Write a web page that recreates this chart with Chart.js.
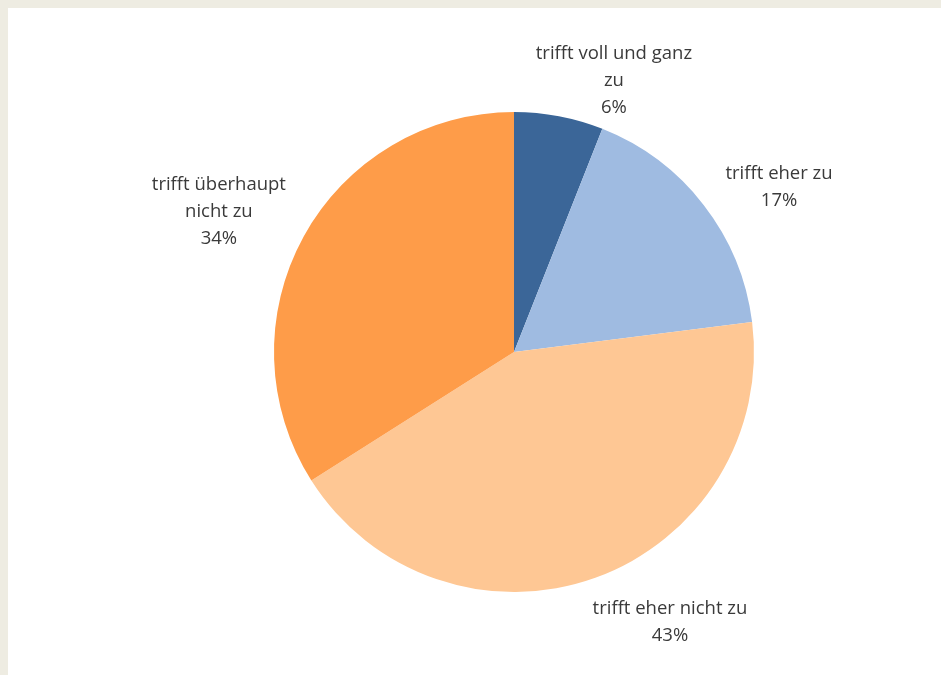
<!DOCTYPE html>
<html>
<head>
<meta charset="utf-8">
<script src="https://cdn.jsdelivr.net/npm/chart.js@4/dist/chart.umd.min.js"></script>
<style>
  html, body { margin: 0; padding: 0; }
  body { background: #eeece2; width: 941px; height: 675px; overflow: hidden; }
  #wrap { position: absolute; left: 8px; top: 8px; width: 933px; height: 667px; background: #fff; }
</style>
</head>
<body>
<div id="wrap"><canvas id="pieChart" width="933" height="667"></canvas></div>
<script>
const categories = [
  ['trifft voll und ganz', 'zu'],
  ['trifft eher zu'],
  ['trifft eher nicht zu'],
  ['trifft überhaupt', 'nicht zu']
];
const shares = [6, 17, 43, 34];
const sliceColors = ['#3b6698', '#9fbbe1', '#fec794', '#fe9c49'];

// where each label sits: angle in degrees from 12 o'clock and distance as a multiple of the radius
const labelAngle = [20, 57.6, 149.7, 295.9];
const labelDist = [1.217, 1.308, 1.288, 1.367];

const outsideLabels = {
  id: 'outsideLabels',
  afterDatasetsDraw(chart) {
    const ctx = chart.ctx;
    const meta = chart.getDatasetMeta(0);
    ctx.save();
    ctx.font = '18.5px "Open Sans", sans-serif';
    ctx.fillStyle = '#3a3a3a';
    ctx.textAlign = 'center';
    ctx.textBaseline = 'middle';
    meta.data.forEach((arc, i) => {
      const a = labelAngle[i] * Math.PI / 180;
      const r = arc.outerRadius * labelDist[i];
      const cx = arc.x + Math.sin(a) * r;
      const cy = arc.y - Math.cos(a) * r + 3; // open sans sits a little high
      const lines = categories[i].concat([shares[i] + '%']);
      const lh = 27;
      const top = cy - (lines.length - 1) * lh / 2;
      lines.forEach((t, k) => ctx.fillText(t, cx, top + k * lh));
    });
    ctx.restore();
  }
};

new Chart(document.getElementById('pieChart'), {
  type: 'pie',
  data: {
    labels: categories.map(c => c.join(' ')),
    datasets: [{
      data: shares,
      backgroundColor: sliceColors,
      borderWidth: 0
    }]
  },
  options: {
    responsive: false,
    animation: false,
    layout: { padding: { left: 266, right: 187, top: 104, bottom: 83 } },
    plugins: {
      legend: { display: false },
      tooltip: { enabled: false }
    }
  },
  plugins: [outsideLabels]
});
</script>
</body>
</html>
